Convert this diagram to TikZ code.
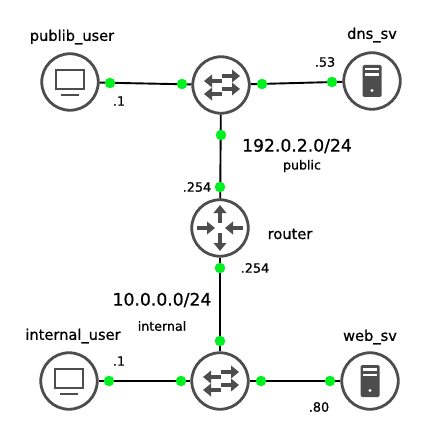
\documentclass[tikz,border=0pt]{standalone}
\usepackage{fontspec}
\setmainfont{DejaVu Sans}
\newfontfamily\labelfont[FakeBold=0.8]{DejaVu Sans}
\usetikzlibrary{arrows.meta,positioning}
\definecolor{icongray}{HTML}{4D4D4D}
\definecolor{dotgreen}{HTML}{00F020}

\begin{document}
\begin{tikzpicture}[
    x=1pt, y=1pt,
    on grid,
    device/.style={circle, draw=icongray, line width=2.8pt, fill=white, minimum size=56.5pt, inner sep=0pt},
    dot/.style={circle, fill=dotgreen, minimum size=10.5pt, inner sep=0pt},
    link/.style={line width=1.9pt},
    hostname/.style={font=\labelfont\fontsize{14.6}{16}\selectfont},
    addr/.style={font=\labelfont\fontsize{12.8}{15}\selectfont},
    subnet/.style={font=\labelfont\fontsize{17.2}{18}\selectfont},
    netname/.style={font=\labelfont\fontsize{12.6}{14}\selectfont},
    iconarrow/.style={icongray, line width=3.6pt, -{Triangle[length=8pt,width=12.5pt]}},
    pcicon/.pic={
      \draw[icongray, line width=1.3pt] (-14,-7) rectangle (14,12);
      \draw[icongray, line width=1.6pt] (-9,-13) -- (9,-13);
    },
    svicon/.pic={
      \fill[icongray, rounded corners=1.5pt] (-9.5,-16) rectangle (9.5,16);
      \fill[white] (-7,10.5) rectangle (7,13);
      \fill[white] (-7,5) rectangle (7,7.5);
      \fill[white] (0,-9.5) circle (1.6);
    },
    swicon/.pic={
      \draw[iconarrow] (1,9) -- (19,9);
      \draw[iconarrow] (1,4) -- (-17,4);
      \draw[iconarrow] (1,-4) -- (19,-4);
      \draw[iconarrow] (1,-9) -- (-17,-9);
    },
    rticon/.pic={
      \draw[iconarrow] (0,5) -- (0,23);
      \draw[iconarrow] (0,-5) -- (0,-23);
      \draw[iconarrow] (-23,0) -- (-5,0);
      \draw[iconarrow] (23,0) -- (5,0);
    }
  ]
  \useasboundingbox (0,0) rectangle (423,-438);

  % Devices
  \node[device] (switch_pub) at (221,-85) {};
  \node[device, left=151pt of switch_pub, yshift=3pt] (publib_user) {};
  \node[device, right=151pt of switch_pub, yshift=4pt] (dns_sv) {};
  \node[device, below=143pt of switch_pub, xshift=-1pt] (router) {};
  \node[device, below=153pt of router] (switch_int) {};
  \node[device, left=151pt of switch_int] (internal_user) {};
  \node[device, right=150pt of switch_int] (web_sv) {};

  % Icons
  \pic at (publib_user) {pcicon};
  \pic at (internal_user) {pcicon};
  \pic at (dns_sv) {svicon};
  \pic at (web_sv) {svicon};
  \pic at (switch_pub) {swicon};
  \pic at (switch_int) {swicon};
  \pic at (router) {rticon};

  % Connections
  \draw[link] (publib_user) -- (switch_pub);
  \draw[link] (switch_pub) -- (dns_sv);
  \draw[link] (switch_pub) -- (router);
  \draw[link] (router) -- (switch_int);
  \draw[link] (internal_user) -- (switch_int);
  \draw[link] (switch_int) -- (web_sv);

  % Interfaces
  \node[dot, right=40pt of publib_user, yshift=-1pt] (if_user) {};
  \node[dot, left=39pt of switch_pub, yshift=1pt] (if_pub_w) {};
  \node[dot, right=41pt of switch_pub, yshift=1pt] (if_pub_e) {};
  \node[dot, left=40pt of dns_sv, yshift=-1pt] (if_dns) {};
  \node[dot, below=50pt of switch_pub] (if_pub_s) {};
  \node[dot, above=41pt of router] (if_rt_n) {};
  \node[dot, below=40pt of router] (if_rt_s) {};
  \node[dot, above=40pt of switch_int] (if_int_n) {};
  \node[dot, right=40pt of internal_user] (if_inuser) {};
  \node[dot, left=39pt of switch_int] (if_int_w) {};
  \node[dot, right=41pt of switch_int] (if_int_e) {};
  \node[dot, left=40pt of web_sv] (if_web) {};

  % Labels
  \node[hostname, above right=45pt and 2pt of publib_user] (lbl_user) {publib\_user};
  \node[hostname, above=46pt of dns_sv] (lbl_dns) {dns\_sv};
  \node[hostname, right=70pt of router, yshift=-6pt] (lbl_router) {router};
  \node[hostname, above right=45pt and 4pt of internal_user] (lbl_inuser) {internal\_user};
  \node[hostname, above=44pt of web_sv] (lbl_web) {web\_sv};
  \node[addr, below right=18pt and 9pt of if_user] (ip_user) {.1};
  \node[addr, above left=20pt and 7pt of if_dns] (ip_dns) {.53};
  \node[addr, left=23pt of if_rt_n] (ip_rt_n) {.254};
  \node[addr, right=35pt of if_rt_s] (ip_rt_s) {.254};
  \node[addr, above right=20pt and 10pt of if_inuser] (ip_inuser) {.1};
  \node[addr, below left=26pt and 11pt of if_web] (ip_web) {.80};
  \node[subnet, right=76pt of if_pub_s, yshift=-11pt] (net_pub) {192.0.2.0/24};
  \node[netname, below right=20pt and 5pt of net_pub] (name_pub) {public};
  \node[subnet, left=58pt of if_int_n, yshift=41pt] (net_int) {10.0.0.0/24};
  \node[netname, below=26pt of net_int] (name_int) {internal};
\end{tikzpicture}
\end{document}
